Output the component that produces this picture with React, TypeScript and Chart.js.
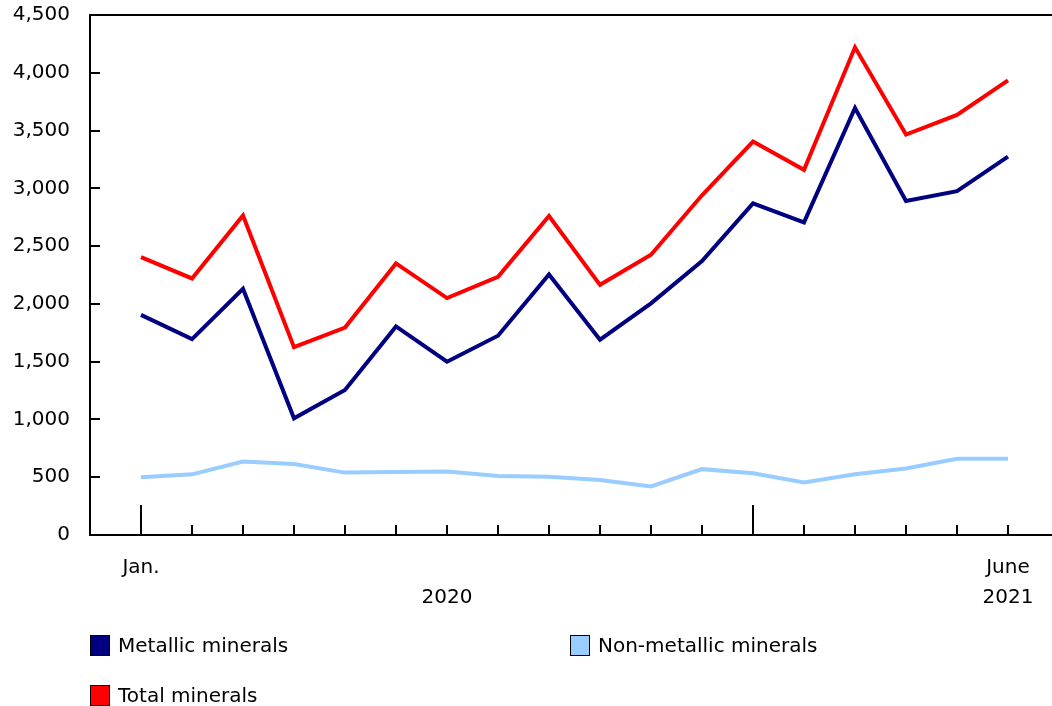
import React, { useEffect, useRef } from 'react';
import { Chart, registerables } from 'chart.js';

Chart.register(...registerables);

// Monthly values, January 2020 to June 2021
const months = [
  'Jan. 2020', 'Feb. 2020', 'Mar. 2020', 'Apr. 2020', 'May 2020', 'June 2020',
  'July 2020', 'Aug. 2020', 'Sept. 2020', 'Oct. 2020', 'Nov. 2020', 'Dec. 2020',
  'Jan. 2021', 'Feb. 2021', 'Mar. 2021', 'Apr. 2021', 'May 2021', 'June 2021',
];
const metallic = [1905, 1695, 2130, 1010, 1255, 1805, 1500, 1725, 2255, 1690, 2005, 2370, 2870, 2705, 3695, 2890, 2975, 3275];
const nonMetallic = [500, 525, 635, 615, 540, 545, 550, 510, 505, 475, 420, 570, 535, 455, 525, 575, 660, 660];
const total = [2405, 2220, 2765, 1625, 1795, 2350, 2050, 2235, 2760, 2165, 2425, 2940, 3405, 3160, 4220, 3465, 3635, 3935];

const yTicks = [0, 500, 1000, 1500, 2000, 2500, 3000, 3500, 4000, 4500];
// Month index -> two-line label (month row, year row)
const xTickLabels: Record<number, string[]> = {
  0: ['Jan.', ''],
  6: ['', '2020'],
  17: ['June', '2021'],
};
const yearStarts = [0, 12];

const FONT = "'DejaVu Sans', Verdana, sans-serif";

const seriesInfo = [
  { label: 'Metallic minerals', color: '#000080', values: metallic },
  { label: 'Non-metallic minerals', color: '#99ccff', values: nonMetallic },
  { label: 'Total minerals', color: '#ff0000', values: total },
];

const legendSpots = [
  { left: 90, top: 634 },
  { left: 570, top: 634 },
  { left: 90, top: 684 },
];

// Top frame line plus inward tick marks on both axes
const framePlugin = {
  id: 'frame',
  beforeDatasetsDraw(chart: any) {
    const { ctx, chartArea: a, scales } = chart;
    const x = scales.x;
    const y = scales.y;
    ctx.save();
    ctx.strokeStyle = '#000';
    ctx.lineWidth = 2;
    ctx.beginPath();
    ctx.moveTo(a.left, a.top);
    ctx.lineTo(a.right, a.top);
    yTicks.forEach((v) => {
      const py = Math.round(y.getPixelForValue(v));
      ctx.moveTo(a.left, py);
      ctx.lineTo(a.left + 10, py);
    });
    months.forEach((_, i) => {
      const px = Math.round(x.getPixelForValue(i));
      const len = yearStarts.includes(i) ? 30 : 10;
      ctx.moveTo(px, a.bottom);
      ctx.lineTo(px, a.bottom - len);
    });
    ctx.stroke();
    ctx.restore();
  },
};

export default function App() {
  const canvasRef = useRef<HTMLCanvasElement>(null);

  useEffect(() => {
    if (!canvasRef.current) return;
    const chart = new Chart(canvasRef.current, {
      type: 'line',
      data: {
        datasets: seriesInfo.map((s) => ({
          label: s.label,
          data: s.values.map((v, i) => ({ x: i, y: v })),
          borderColor: s.color,
          backgroundColor: s.color,
          borderWidth: 4,
          borderJoinStyle: 'miter' as const,
          pointRadius: 0,
          tension: 0,
          fill: false,
        })),
      },
      options: {
        responsive: false,
        animation: false,
        layout: { padding: { top: 15, left: 0, right: 0, bottom: 0 } },
        plugins: {
          legend: { display: false },
          tooltip: { enabled: false },
        },
        scales: {
          x: {
            type: 'linear',
            min: -1,
            max: 18,
            grid: { display: false, drawTicks: false },
            border: { display: true, color: '#000', width: 2 },
            ticks: {
              autoSkip: false,
              maxRotation: 0,
              padding: 18,
              color: '#000',
              font: { family: FONT, size: 20, lineHeight: 1.5 },
              callback: (v: any) => xTickLabels[v as number] ?? '',
            },
            afterBuildTicks: (scale: any) => {
              scale.ticks = Object.keys(xTickLabels).map((k) => ({ value: Number(k) }));
            },
            afterFit: (scale: any) => {
              scale.height = 171;
              scale.paddingLeft = 0;
              scale.paddingRight = 0;
            },
          },
          y: {
            min: 0,
            max: 4500,
            grid: { display: false, drawTicks: false },
            border: { display: true, color: '#000', width: 2 },
            ticks: {
              stepSize: 500,
              padding: 20,
              color: '#000',
              font: { family: FONT, size: 20 },
              callback: (v: any) => Number(v).toLocaleString('en-US'),
            },
            afterFit: (scale: any) => {
              scale.width = 90;
              scale.paddingTop = 0;
              scale.paddingBottom = 0;
            },
          },
        },
      },
      plugins: [framePlugin],
    });
    return () => chart.destroy();
  }, []);

  return (
    <div
      style={{
        position: 'absolute',
        left: 0,
        top: 0,
        width: 1052,
        height: 706,
        overflow: 'hidden',
        background: '#fff',
        fontFamily: FONT,
      }}
    >
      <canvas ref={canvasRef} width={1059} height={706} style={{ display: 'block', width: 1059, height: 706 }} />
      {seriesInfo.map((s, i) => (
        <div
          key={s.label}
          style={{
            position: 'absolute',
            left: legendSpots[i].left,
            top: legendSpots[i].top,
            height: 22,
            display: 'flex',
            alignItems: 'center',
            whiteSpace: 'nowrap',
          }}
        >
          <span
            style={{
              display: 'inline-block',
              width: 18,
              height: 19,
              background: s.color,
              border: '1px solid #000',
              marginRight: 8,
            }}
          />
          <span style={{ fontSize: 20, color: '#000', lineHeight: '22px' }}>{s.label}</span>
        </div>
      ))}
    </div>
  );
}
